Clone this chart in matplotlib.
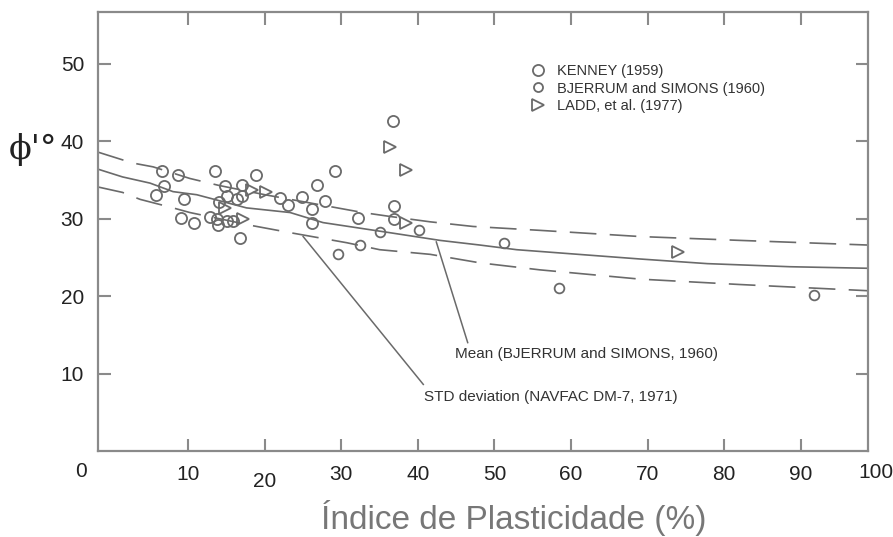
import matplotlib
matplotlib.use("Agg")
import matplotlib.pyplot as plt
from matplotlib.lines import Line2D

plt.rcParams['font.family'] = ['Liberation Sans', 'DejaVu Sans']

# scatter data (PI %, phi' deg)
kenney_pi = [6.6, 8.7, 13.5, 18.9, 6.8, 5.8, 9.4, 14.8, 17.0, 14.0, 16.3, 15.0, 17.0,
             22.0, 23.0, 9.1, 10.8, 12.8, 13.7, 13.9, 15.0, 15.9, 16.7, 36.8, 29.1,
             26.8, 24.8, 27.9, 26.2, 26.2, 32.2, 36.9, 36.9]
kenney_phi = [36.2, 35.6, 36.1, 35.7, 34.2, 33.1, 32.5, 34.2, 34.4, 32.2, 32.5, 32.9, 32.9,
              32.7, 31.8, 30.1, 29.5, 30.2, 29.9, 29.2, 29.7, 29.7, 27.5, 42.6, 36.2,
              34.3, 32.8, 32.3, 31.2, 29.4, 30.1, 31.7, 30.0]
bjerrum_pi = [35.0, 40.2, 32.4, 29.5, 51.2, 58.4, 91.8]
bjerrum_phi = [28.3, 28.6, 26.6, 25.4, 26.9, 21.1, 20.2]
ladd_pi = [18.3, 20.2, 14.8, 17.2, 36.3, 38.5, 38.4, 74.0]
ladd_phi = [33.7, 33.5, 31.4, 30.0, 39.2, 36.3, 29.4, 25.7]

# curves
upper_pi = [-1.8, 2.7, 5.4, 10.2, 14, 20, 25, 28.9, 32.8, 36.3, 41.6, 47.2, 55.9, 69, 82.1, 98.8]
upper_phi = [38.6, 37.2, 36.7, 35.2, 34.3, 33.1, 32.2, 31.5, 30.8, 30.3, 29.6, 29.0, 28.5, 27.7, 27.2, 26.6]
mean_pi = [-1.8, 1.4, 5.0, 8.0, 11.1, 17.6, 23.3, 27.6, 36.3, 42.9, 48.1, 52.9, 69, 77.8, 88.6, 98.8]
mean_phi = [36.4, 35.4, 34.6, 33.5, 33.1, 31.4, 30.8, 29.5, 28.2, 27.2, 26.6, 26.0, 24.8, 24.2, 23.8, 23.6]
lower_pi = [-1.8, 1.4, 3.7, 8.0, 10.2, 18.4, 23.3, 30.7, 35, 41.6, 48.1, 55.9, 69, 82.1, 98.8]
lower_phi = [34.1, 33.4, 32.5, 31.4, 30.8, 29.1, 28.2, 26.9, 26.0, 25.4, 24.3, 23.4, 22.2, 21.5, 20.7]

xticks = [10, 20, 30, 40, 50, 60, 70, 80, 90]
yticks = [10, 20, 30, 40, 50]

gray = '#6a6a6a'
axc = '#8a8a8a'
narrow = ['Liberation Sans Narrow', 'Liberation Sans', 'DejaVu Sans']

fig = plt.figure(figsize=(8.93, 5.37), dpi=100)
ax = fig.add_axes([98/893, 1-451/537, 770/893, 439/537])

ax.plot(upper_pi, upper_phi, color=gray, lw=1.2, linestyle=(0, (16, 8)))
ax.plot(mean_pi, mean_phi, color=gray, lw=1.2)
ax.plot(lower_pi, lower_phi, color=gray, lw=1.2, linestyle=(0, (16, 8)))

ax.plot(kenney_pi, kenney_phi, 'o', mfc='none', mec=gray, mew=1.3, ms=8)
ax.plot(bjerrum_pi, bjerrum_phi, 'o', mfc='none', mec=gray, mew=1.3, ms=7)
ax.plot(ladd_pi, ladd_phi, '>', mfc='none', mec=gray, mew=1.3, ms=9)

# annotations
ax.plot([42.4, 46.5], [27.0, 14.0], color=gray, lw=1.1)
ax.plot([25.0, 40.7], [27.7, 8.6], color=gray, lw=1.1)
ax.text(44.8, 12.5, 'Mean (BJERRUM and SIMONS, 1960)', fontsize=11, color='#333333', va='center')
ax.text(40.8, 7.0, 'STD deviation (NAVFAC DM-7, 1971)', fontsize=11, color='#333333', va='center')

# legend
handles = [
    Line2D([], [], marker='o', ls='none', mfc='none', mec=gray, mew=1.3, ms=8),
    Line2D([], [], marker='o', ls='none', mfc='none', mec=gray, mew=1.3, ms=6.5),
    Line2D([], [], marker='>', ls='none', mfc='none', mec=gray, mew=1.3, ms=8),
]
labels = ['KENNEY (1959)', 'BJERRUM and SIMONS (1960)', 'LADD, et al. (1977)']
leg = ax.legend(handles, labels, loc='upper left', bbox_to_anchor=(0.555, 0.895),
                frameon=False, fontsize=10.5, handlelength=1.0, handletextpad=0.8,
                labelspacing=0.25, borderaxespad=0)
for t in leg.get_texts():
    t.set_color('#333333')

ax.set_xlim(-1.8, 98.8)
ax.set_ylim(0, 56.7)
ax.set_xticks(xticks)
ax.set_yticks(yticks)
ax.tick_params(direction='in', length=9, width=1.5, color=axc, top=True, right=True,
               labelsize=15, labelcolor='#222222', pad=10)
for lab in ax.get_xticklabels() + ax.get_yticklabels():
    lab.set_family(narrow)
ax.xaxis.get_major_ticks()[1].set_pad(15)
for s in ax.spines.values():
    s.set_color(axc)
    s.set_linewidth(1.6)

ax.text(-4.0, -2.6, '0', fontsize=15, color='#222222', ha='center', va='center',
        clip_on=False, family=narrow)
ax.text(99.8, -2.8, '100', fontsize=15, color='#222222', ha='center', va='center',
        clip_on=False, family=narrow)

fig.text(33/893, 1-150/537, "ϕ'°", fontsize=24, color='#222222', ha='center', va='center',
         family=['DejaVu Serif'])
fig.text(514/893, 1-518/537, 'Índice de Plasticidade (%)', fontsize=24, color='#777777',
         ha='center', va='center', family=narrow)

fig.savefig('out.png', dpi=100)
